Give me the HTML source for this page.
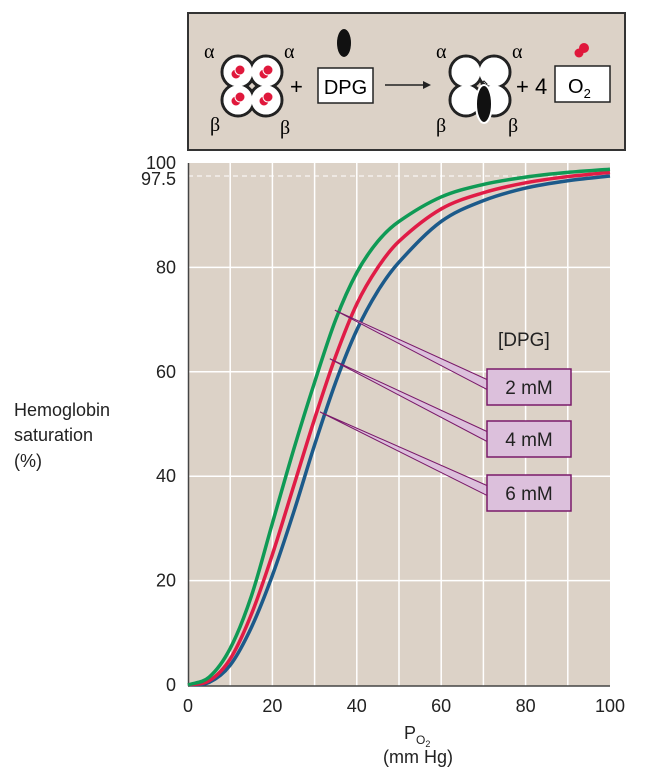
<!DOCTYPE html>
<html><head><meta charset="utf-8"><style>
body{margin:0;background:#fff;}
svg{display:block;font-family:"Liberation Sans",sans-serif;}
</style></head><body>
<svg id="chart" width="648" height="776" viewBox="0 0 648 776">
 <g>
  <rect x="188" y="13" width="437" height="137" fill="#dcd2c7" stroke="#333" stroke-width="2"/>
  <g>
   <g stroke="#222" stroke-width="3" fill="#fff">
    <circle cx="238" cy="72" r="16"/><circle cx="266" cy="72" r="16"/><circle cx="238" cy="100" r="16"/><circle cx="266" cy="100" r="16"/>
   </g>
   <g fill="#fff">
    <circle cx="238" cy="72" r="14.5"/><circle cx="266" cy="72" r="14.5"/><circle cx="238" cy="100" r="14.5"/><circle cx="266" cy="100" r="14.5"/>
   </g>
   <g fill="#e0183c" stroke="#fff" stroke-width="1">
    <circle cx="236" cy="74" r="5"/><circle cx="240" cy="70" r="5"/>
    <circle cx="264" cy="74" r="5"/><circle cx="268" cy="70" r="5"/>
    <circle cx="236" cy="101" r="5"/><circle cx="240" cy="97" r="5"/>
    <circle cx="264" cy="101" r="5"/><circle cx="268" cy="97" r="5"/>
   </g>
   <path d="M252 82 l4 4 -4 4 -4 -4z" fill="none" stroke="#222"/>
   <text x="204" y="58" font-size="20" font-family="Liberation Serif,serif">α</text>
   <text x="284" y="58" font-size="20" font-family="Liberation Serif,serif">α</text>
   <text x="210" y="131" font-size="20" font-family="Liberation Serif,serif">β</text>
   <text x="280" y="134" font-size="20" font-family="Liberation Serif,serif">β</text>
  </g>
  <text x="290" y="94" font-size="22">+</text>
  <ellipse cx="344" cy="43" rx="7" ry="14" fill="#111"/>
  <rect x="318" y="68" width="55" height="35" fill="#fff" stroke="#222" stroke-width="1.5"/>
  <text x="345.5" y="94" font-size="20" text-anchor="middle">DPG</text>
  <line x1="385" y1="85" x2="425" y2="85" stroke="#222" stroke-width="1.5"/>
  <path d="M431 85 l-8 -4 v8z" fill="#222"/>
  <g>
   <g stroke="#222" stroke-width="3" fill="#fff">
    <circle cx="466" cy="72" r="16"/><circle cx="494" cy="72" r="16"/><circle cx="466" cy="100" r="16"/><circle cx="494" cy="100" r="16"/>
   </g>
   <g fill="#fff">
    <circle cx="466" cy="72" r="14.5"/><circle cx="494" cy="72" r="14.5"/><circle cx="466" cy="100" r="14.5"/><circle cx="494" cy="100" r="14.5"/>
   </g>
   <path d="M484 81 l3 3 -3 3 -3 -3z" fill="none" stroke="#222"/>
   <ellipse cx="484" cy="104" rx="8" ry="19" fill="#111" stroke="#fff" stroke-width="2"/>
   <text x="436" y="58" font-size="20" font-family="Liberation Serif,serif">α</text>
   <text x="512" y="58" font-size="20" font-family="Liberation Serif,serif">α</text>
   <text x="436" y="132" font-size="20" font-family="Liberation Serif,serif">β</text>
   <text x="508" y="132" font-size="20" font-family="Liberation Serif,serif">β</text>
  </g>
  <text x="516" y="94" font-size="22">+ 4</text>
  <circle cx="584" cy="48" r="5" fill="#e0183c"/><circle cx="579" cy="53" r="4.5" fill="#e0183c"/>
  <rect x="555" y="66" width="55" height="36" fill="#fff" stroke="#222" stroke-width="1.5"/>
  <text x="568" y="93" font-size="20">O<tspan font-size="13" dy="5">2</tspan></text>
 </g>
 <rect x="188" y="163" width="422" height="523" fill="#dcd2c7"/>
 <g id="grid"></g>
 <line x1="188.5" y1="163" x2="188.5" y2="686" stroke="#444" stroke-width="1.5"/>
 <line x1="188" y1="686" x2="610" y2="686" stroke="#444" stroke-width="1.5"/>
 <g id="axes"></g>
 <g id="series"></g>
 <g id="callouts"></g>
 <text x="498" y="346" font-size="19" fill="#222">[DPG]</text>
 <g font-size="18" fill="#222">
  <text x="14" y="416">Hemoglobin</text><text x="14" y="441">saturation</text><text x="14" y="467">(%)</text>
 </g>
 <g font-size="18" fill="#222">
  <text x="404" y="739">P<tspan font-size="12" dy="5">O</tspan><tspan font-size="9" dy="3">2</tspan></text>
  <text x="418" y="763" text-anchor="middle">(mm Hg)</text>
 </g>
</svg>
<script>
const xs = [0,5,10,15,20,25,30,35,40,45,50,60,70,80,90,100];
const dpg2 = [0,1.5,7,17,31,45,58,70,79,85,88.8,93.5,95.9,97.3,98.2,98.8];
const dpg4 = [0,0.8,5,13.5,25,38,51,63,73,80,85,91.2,94.3,96.2,97.4,98.2];
const dpg6 = [0,0.5,3.8,11,21,33,46,58,68,75.5,81,88.8,92.8,95.2,96.6,97.5];
const xTicks = [0,20,40,60,80,100];
const yTicks = [0,20,40,60,80,100];
const labels = ["2 mM","4 mM","6 mM"];
const pointerX = [34.8,33.6,31.3];
const pointerY = [71.8,62.5,52.3];
const NS="http://www.w3.org/2000/svg";
const X=v=>188+v*4.22;
const Y=v=>685-v*5.22;
function mk(tag,attrs,parent){const e=document.createElementNS(NS,tag);for(const k in attrs)e.setAttribute(k,attrs[k]);parent.appendChild(e);return e;}
const grid=document.getElementById('grid'),axes=document.getElementById('axes'),series=document.getElementById('series'),cal=document.getElementById('callouts');
for(let v=10;v<100;v+=10){const l=mk('line',{x1:X(v),x2:X(v),y1:163,y2:686,stroke:'#fff','stroke-width':1.5},grid);

}
for(const v of yTicks.slice(1,5)){const l=mk('line',{x1:188,x2:610,y1:Y(v),y2:Y(v),stroke:'#fff','stroke-width':1.5},grid);

}
const d=mk('line',{x1:188,x2:610,y1:Y(97.5),y2:Y(97.5),stroke:'#fff','stroke-width':1,'stroke-dasharray':'5,4'},grid);


for(const v of xTicks){const t=mk('text',{x:X(v),y:712,'font-size':18,'text-anchor':'middle',fill:'#222'},axes);t.textContent=v;

}
for(const v of yTicks){const t=mk('text',{x:176,y:Y(v)+6,'font-size':18,'text-anchor':'end',fill:'#222'},axes);t.textContent=v;

}
const t975=mk('text',{x:176,y:Y(97.5)+9,'font-size':18,'text-anchor':'end',fill:'#222'},axes);t975.textContent='97.5';


function path(ys){const p=xs.map((x,i)=>[X(x),Y(ys[i])]);let s='M'+p[0][0]+' '+p[0][1];
for(let i=0;i<p.length-1;i++){const a=p[Math.max(0,i-1)],b=p[i],c=p[i+1],e=p[Math.min(p.length-1,i+2)];
const h1=(c[0]-b[0])/(c[0]-a[0]||1),h2=(c[0]-b[0])/(e[0]-b[0]||1);
s+=` C${b[0]+(c[0]-a[0])*h1/3} ${b[1]+(c[1]-a[1])*h1/3} ${c[0]-(e[0]-b[0])*h2/3} ${c[1]-(e[1]-b[1])*h2/3} ${c[0]} ${c[1]}`;}return s;}
[[dpg6,'#1c5a8a','curve-6mm'],[dpg4,'#e01c46','curve-4mm'],[dpg2,'#0f9a55','curve-2mm']].forEach(([ys,c,n])=>{
const p=mk('path',{d:path(ys),fill:'none',stroke:c,'stroke-width':3.5},series);

});
const boxY=[369,421,475];
labels.forEach((lab,i)=>{const by=boxY[i];const px=X(pointerX[i]),py=Y(pointerY[i]);
const w=mk('polygon',{points:`${px},${py} 488,${by+11} 488,${by+21}`,fill:'#dcc0dc',stroke:'#7a1a6a','stroke-width':1},cal);


const r=mk('rect',{x:487,y:by,width:84,height:36,fill:'#dcc0dc',stroke:'#7a1a6a','stroke-width':1.5},cal);


const t=mk('text',{x:529,y:by+25,'font-size':19,'text-anchor':'middle',fill:'#222'},cal);t.textContent=lab;

});
</script>
</body></html>
